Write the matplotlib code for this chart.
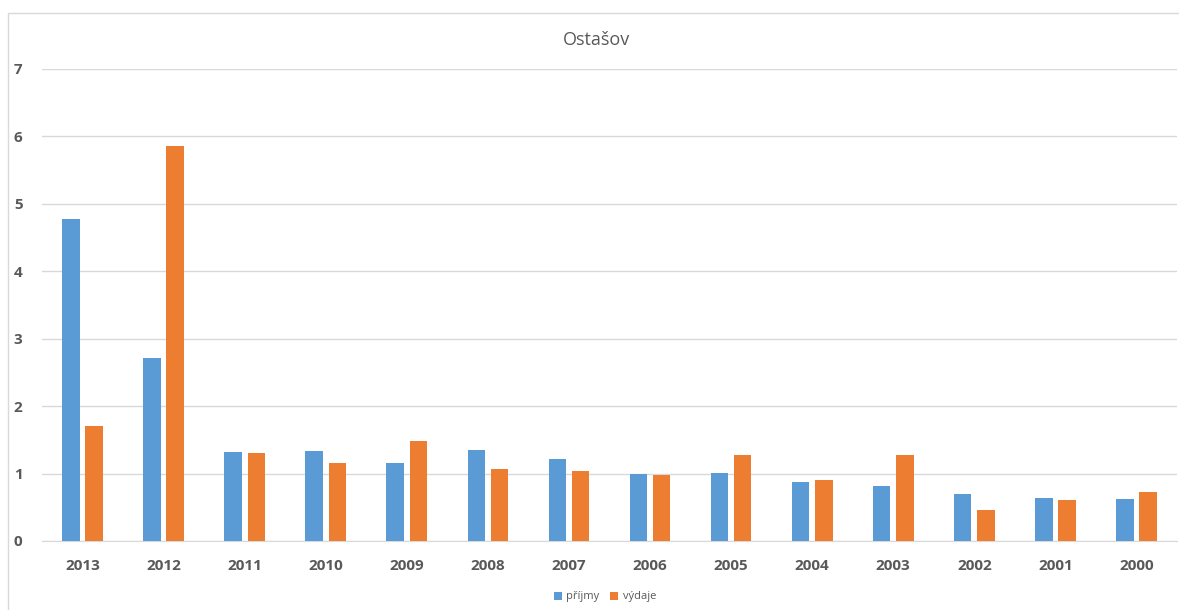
import numpy as np
import matplotlib
matplotlib.use("Agg")
import matplotlib.pyplot as plt
from matplotlib.patches import Rectangle

# data
years = ["2013", "2012", "2011", "2010", "2009", "2008", "2007",
         "2006", "2005", "2004", "2003", "2002", "2001", "2000"]
prijmy = [4.78, 2.71, 1.32, 1.34, 1.16, 1.35, 1.22,
          1.00, 1.01, 0.87, 0.82, 0.69, 0.64, 0.62]
vydaje = [1.70, 5.86, 1.31, 1.16, 1.48, 1.07, 1.04,
          0.98, 1.27, 0.90, 1.27, 0.46, 0.61, 0.72]

blue = "#5B9BD5"
orange = "#ED7D31"
grey_text = "#595959"

plt.rcParams['font.family'] = ['Open Sans', 'DejaVu Sans']

W, H = 1179, 610
fig = plt.figure(figsize=(W / 100, H / 100), dpi=100)
ax = fig.add_axes([42 / W, (H - 541) / H, (1177 - 42) / W, (541 - 69) / H])

x = np.arange(len(years))
bw = 0.216
off = 0.143
ax.bar(x - off, prijmy, bw, color=blue, label="příjmy", zorder=3)
ax.bar(x + off, vydaje, bw, color=orange, label="výdaje", zorder=3)

ax.set_xlim(-0.5, len(years) - 0.5)
ax.set_ylim(0, 7)
ax.set_yticks(range(0, 8))
ax.grid(axis="y", color="#D9D9D9", linewidth=1, zorder=0)
for s in ["top", "right", "left"]:
    ax.spines[s].set_visible(False)
ax.spines["bottom"].set_color("#D9D9D9")
ax.tick_params(length=0)
ax.tick_params(axis="y", pad=14)
ax.tick_params(axis="x", pad=13)
ax.set_xticks(x)
ax.set_xticklabels(years)
for lab in ax.get_xticklabels() + ax.get_yticklabels():
    lab.set_fontsize(11)
    lab.set_fontweight("bold")
    lab.set_color(grey_text)

fig.text(597 / W, 1 - 40 / H, "Ostašov", ha="center", va="center",
         fontsize=13, color=grey_text)

leg = fig.legend(loc="center", bbox_to_anchor=(605 / W, 1 - 597 / H), ncol=2,
                 frameon=False, fontsize=8, handlelength=0.7, handleheight=0.7,
                 columnspacing=1.0, handletextpad=0.4)
for t in leg.get_texts():
    t.set_color(grey_text)

# light chart border
fig.patches.append(Rectangle((8 / W, -0.1), 1.2, 1 - 13 / H + 0.1,
                             transform=fig.transFigure, fill=False,
                             edgecolor="#D9D9D9", linewidth=1))

fig.savefig("out.png", dpi=100)
